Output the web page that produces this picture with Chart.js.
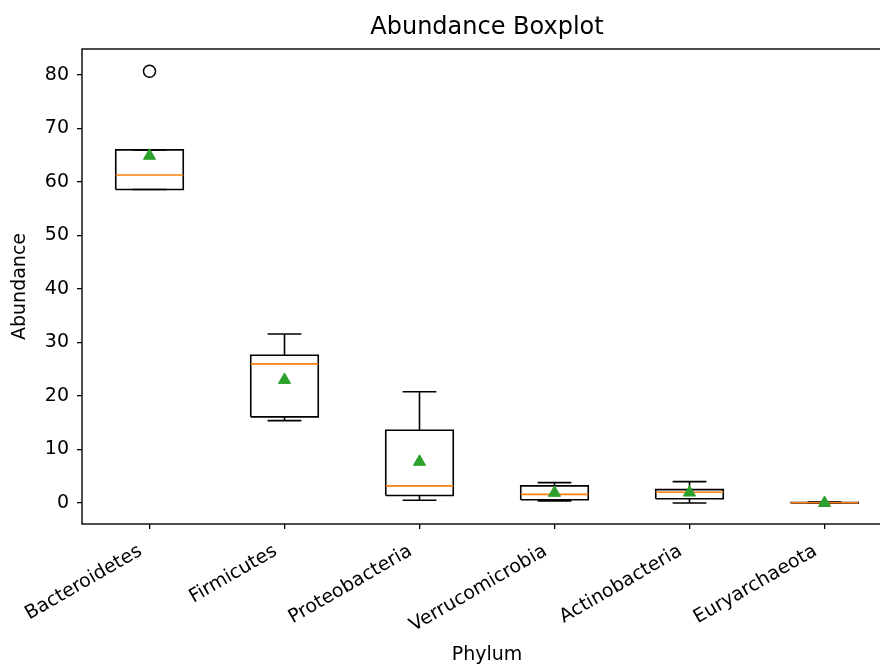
<!DOCTYPE html>
<html>
<head>
<meta charset="utf-8">
<script src="https://cdn.jsdelivr.net/npm/chart.js@4.4.0/dist/chart.umd.min.js"></script>
<style>
  body { margin: 0; background: #fff; overflow: hidden; }
  #wrap { width: 900px; height: 666px; }
</style>
</head>
<body>
<div id="wrap"><canvas id="boxChart" width="900" height="666"></canvas></div>
<script>
const categories = ['Bacteroidetes', 'Firmicutes', 'Proteobacteria', 'Verrucomicrobia', 'Actinobacteria', 'Euryarchaeota'];
const whiskerLow = [58.6, 15.4, 0.5, 0.4, 0.0, 0.0];
const q1 = [58.6, 16.1, 1.4, 0.6, 0.8, 0.02];
const median = [61.3, 26.0, 3.2, 1.6, 2.0, 0.05];
const q3 = [66.0, 27.6, 13.6, 3.2, 2.5, 0.1];
const whiskerHigh = [66.0, 31.6, 20.8, 3.8, 4.0, 0.15];
const means = [64.9, 23.0, 7.7, 1.9, 1.95, 0.0];
const outliers = [[80.7], [], [], [], [], []];
const yTicks = [0, 10, 20, 30, 40, 50, 60, 70, 80];

const boxHalf = 0.25, capHalf = 0.125;
const FONT = 'DejaVu Sans';

// build line paths (null y breaks the line between boxes)
function boxPoints() {
    const pts = [];
    categories.forEach((c, i) => {
        const x = i + 1;
        pts.push({x: x - boxHalf, y: q1[i]}, {x: x + boxHalf, y: q1[i]},
                 {x: x + boxHalf, y: q3[i]}, {x: x - boxHalf, y: q3[i]},
                 {x: x - boxHalf, y: q1[i]}, {x: x, y: null});
    });
    return pts;
}

function whiskerPoints() {
    const pts = [];
    categories.forEach((c, i) => {
        const x = i + 1;
        pts.push({x: x, y: q3[i]}, {x: x, y: whiskerHigh[i]}, {x: x, y: null});
        pts.push({x: x, y: q1[i]}, {x: x, y: whiskerLow[i]}, {x: x, y: null});
        pts.push({x: x - capHalf, y: whiskerHigh[i]}, {x: x + capHalf, y: whiskerHigh[i]}, {x: x, y: null});
        pts.push({x: x - capHalf, y: whiskerLow[i]}, {x: x + capHalf, y: whiskerLow[i]}, {x: x, y: null});
    });
    return pts;
}

function medianPoints() {
    const pts = [];
    categories.forEach((c, i) => {
        const x = i + 1;
        pts.push({x: x - boxHalf, y: median[i]}, {x: x + boxHalf, y: median[i]}, {x: x, y: null});
    });
    return pts;
}

const meanPoints = means.map((m, i) => ({x: i + 1, y: m}));
const outlierPoints = [];
outliers.forEach((list, i) => list.forEach(v => outlierPoints.push({x: i + 1, y: v})));

const lineStyle = { showLine: true, pointRadius: 0, tension: 0, fill: false, spanGaps: false,
                    borderJoinStyle: 'miter', borderCapStyle: 'butt' };

// frame around the plot area (matplotlib spines)
const framePlugin = {
    id: 'frame',
    afterDraw(chart) {
        const {ctx, chartArea: a} = chart;
        ctx.save();
        ctx.strokeStyle = '#000';
        ctx.lineWidth = 1.4;
        ctx.strokeRect(a.left, a.top, a.right - a.left, a.bottom - a.top);
        ctx.restore();
    }
};

new Chart(document.getElementById('boxChart'), {
    type: 'scatter',
    data: {
        datasets: [
            { label: 'mean', data: meanPoints, pointStyle: 'triangle', pointRadius: 7,
              backgroundColor: '#2ca02c', borderColor: '#2ca02c', borderWidth: 1 },
            { label: 'outliers', data: outlierPoints, pointStyle: 'circle', pointRadius: 6,
              backgroundColor: 'rgba(255,255,255,0)', borderColor: '#000', borderWidth: 1.5 },
            { label: 'median', data: medianPoints(), borderColor: '#ff7f0e', borderWidth: 1.6, ...lineStyle },
            { label: 'box', data: boxPoints(), borderColor: '#000', borderWidth: 1.6, ...lineStyle },
            { label: 'whiskers', data: whiskerPoints(), borderColor: '#000', borderWidth: 1.6, ...lineStyle }
        ]
    },
    options: {
        responsive: false,
        animation: false,
        layout: { padding: { left: 0, right: 8, top: 0, bottom: 0 } },
        plugins: {
            legend: { display: false },
            tooltip: { enabled: false }
        },
        scales: {
            x: {
                type: 'linear', min: 0.5, max: 6.5,
                afterBuildTicks: s => { s.ticks = categories.map((c, i) => ({value: i + 1})); },
                afterFit: s => { s.height = 142; },
                ticks: { callback: v => categories[v - 1], color: '#000', autoSkip: false,
                         maxRotation: 30, minRotation: 30, padding: 11, labelOffset: -9,
                         font: { family: FONT, size: 19 } },
                grid: { drawOnChartArea: false, drawTicks: true, tickLength: 5, color: '#000', lineWidth: 1.3 },
                border: { display: false },
                title: { display: true, text: 'Phylum', color: '#000',
                         font: { family: FONT, size: 19 }, padding: { top: 0, bottom: 0 } }
            },
            // top axis only carries the title so it centres over the plot area
            top: {
                type: 'linear', position: 'top', min: 0.5, max: 6.5,
                afterFit: s => { s.height = 49; },
                ticks: { display: false },
                grid: { display: false },
                border: { display: false },
                title: { display: true, text: 'Abundance Boxplot', color: '#000',
                         font: { family: FONT, size: 24 }, padding: { top: 13, bottom: 0 } }
            },
            y: {
                min: -3.93, max: 84.86,
                afterBuildTicks: s => { s.ticks = yTicks.map(v => ({value: v})); },
                afterFit: s => { s.width = 82; },
                ticks: { color: '#000', padding: 8, font: { family: FONT, size: 19 } },
                grid: { drawOnChartArea: false, drawTicks: true, tickLength: 5, color: '#000', lineWidth: 1.3 },
                border: { display: false },
                title: { display: true, text: 'Abundance', color: '#000',
                         font: { family: FONT, size: 19 }, padding: { top: 9, bottom: 0 } }
            }
        }
    },
    plugins: [framePlugin]
});
</script>
</body>
</html>
